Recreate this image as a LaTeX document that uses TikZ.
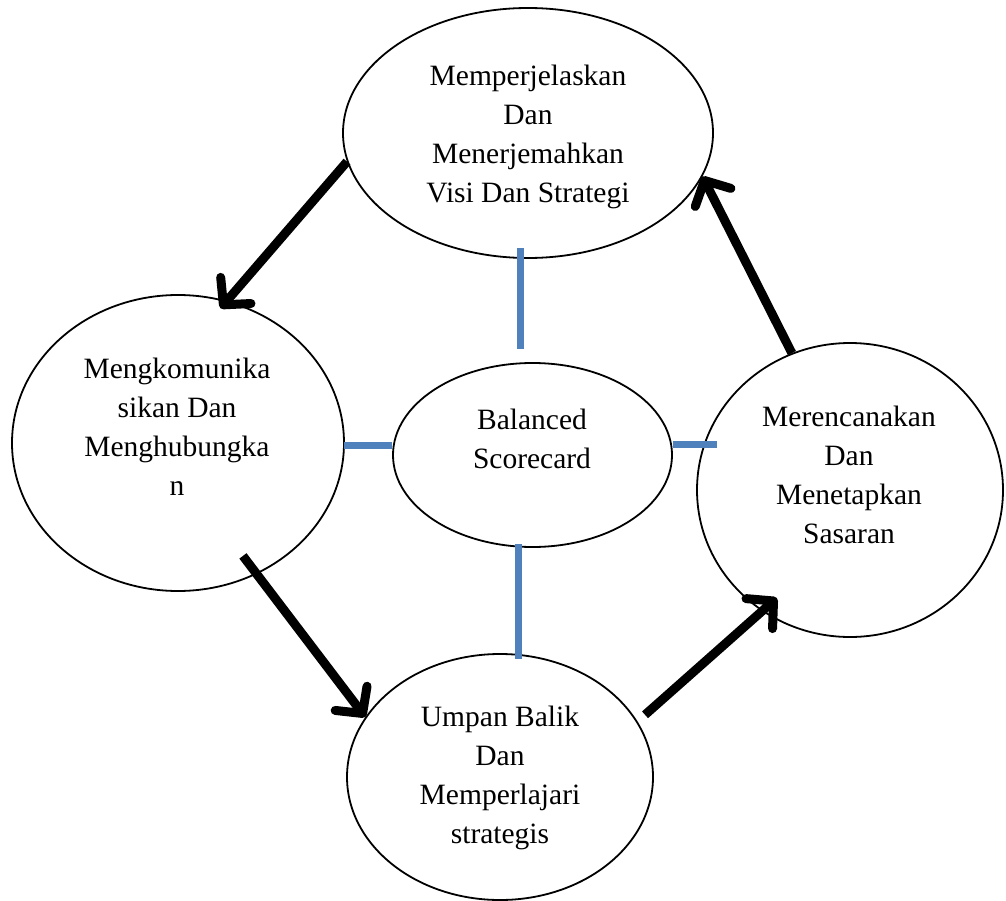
\documentclass[tikz,border=0pt]{standalone}
\usepackage{fontspec}
\setmainfont{Liberation Serif}
\usetikzlibrary{shapes.geometric,arrows.meta,calc}
\definecolor{barblue}{RGB}{79,129,189}
\begin{document}
\begin{tikzpicture}[x=1pt,y=-1pt,
  oval/.style={draw=black, line width=1.8pt, fill=white, ellipse, inner sep=0pt},
  txt/.style={font=\fontsize{29.5pt}{39pt}\selectfont, align=center, anchor=base, inner sep=0pt},
  flow/.style={line width=9pt, -{Straight Barb[length=19pt,width=40pt,round]}},
  bar/.style={draw=barblue, line width=7pt}]
\useasboundingbox (0,0) rectangle (1006,901);

% the five ovals
\node[oval, minimum width=370pt, minimum height=250pt] (top)   at (528,133) {};
\node[oval, minimum width=332pt, minimum height=296pt] (left)  at (178,443) {};
\node[oval, minimum width=279pt, minimum height=184pt] (mid)   at (532.5,455) {};
\node[oval, minimum width=306pt, minimum height=294pt] (right) at (850,490) {};
\node[oval, minimum width=306pt, minimum height=246pt] (bot)   at (500,777) {};

% blue links to the centre
\draw[bar] ($(mid.north)+(-12.5,-13)$) -- ($(top.south)+(-8,-11)$);
\draw[bar] ($(mid.south)+(-14.5,-4)$) -- ($(bot.north)+(18,6)$);
\draw[bar] ($(mid.west)+(0,-10)$) -- ($(left.east)+(-1,2)$);
\draw[bar] ($(mid.east)+(0.5,-11)$) -- ($(right.west)+(21,-46)$);

% the cycle arrows
\draw[flow, shorten >=-10pt] (top.189) -- (left.71);
\draw[flow, shorten <=-23pt] (left.301) -- (bot.156);
\draw[flow, shorten <=10pt, shorten >=-20pt] (bot.22) -- (right.234);
\draw[flow] (right.113) -- (top.346);

% texts (base anchor sits on the last line)
\node[txt] (topT)   at (528,203) {Memperjelaskan\\Dan\\Menerjemahkan\\Visi Dan Strategi};
\node[txt] (leftT)  at (177,495) {Mengkomunika\\sikan Dan\\Menghubungka\\n};
\node[txt] (midT)   at (532,468) {Balanced\\Scorecard};
\node[txt] (rightT) at (849,543) {Merencanakan\\Dan\\Menetapkan\\Sasaran};
\node[txt] (botT)   at (500,843) {Umpan Balik\\Dan\\Memperlajari\\strategis};
\end{tikzpicture}
\end{document}
